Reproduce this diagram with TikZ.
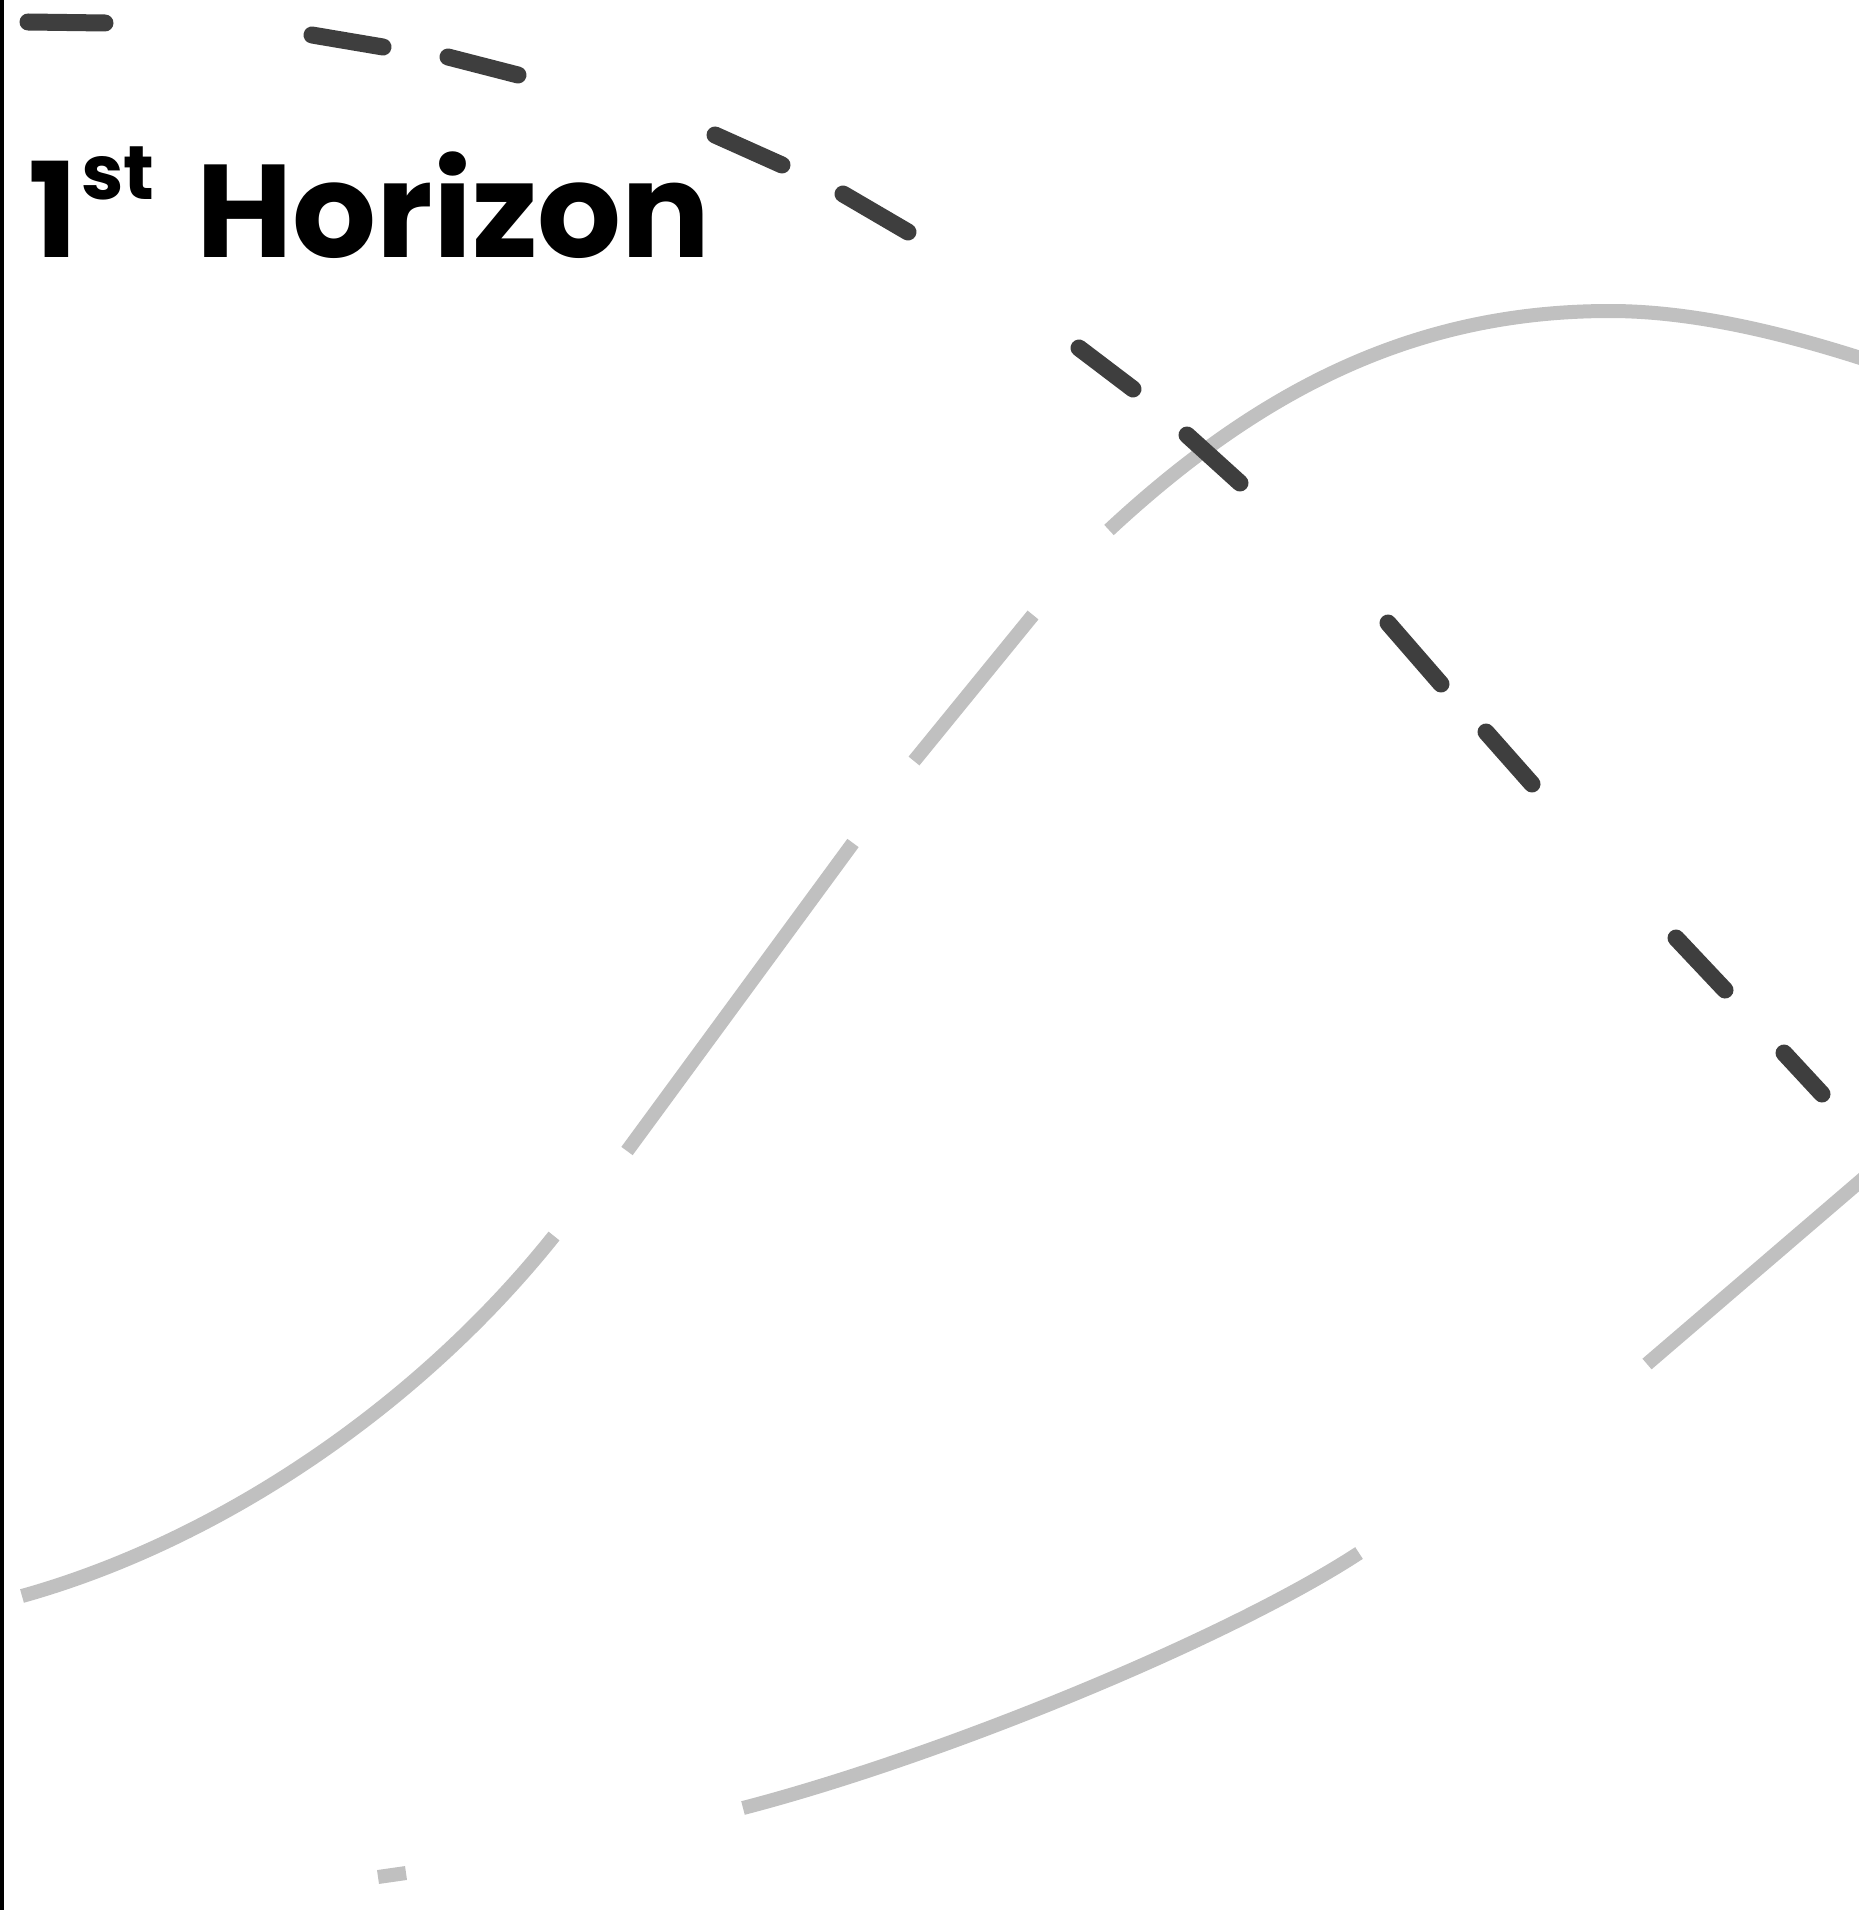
\documentclass[tikz,border=0pt]{standalone}
\usepackage{fontspec}
\newfontfamily\pop{Poppins}
\definecolor{darkdash}{HTML}{3E3E3E}
\definecolor{lightline}{HTML}{C0C0C0}
\begin{document}
\begin{tikzpicture}[x=1pt,y=-1pt,
  darkseg/.style={draw=darkdash,line width=17pt,line cap=round},
  lightseg/.style={draw=lightline,line width=14pt,line cap=butt},
  label/.style={inner sep=0pt,outer sep=0pt,anchor=base west,text=black}]
\useasboundingbox (0,0) rectangle (1859,1910);
\fill[white] (0,0) rectangle (1859,1910);
\begin{scope}
\clip (0,0) rectangle (1859,1910);
% light grey loop, drawn in pieces
\draw[lightseg] (22,1596) .. controls (222,1540) and (420,1404) .. (554,1236);
\draw[lightseg] (627,1151) -- (853,843);
\draw[lightseg] (914,761) -- (1033,615);
\draw[lightseg] (1109,530) .. controls (1265,385) and (1420,311) .. (1610,311)
                .. controls (1720,311) and (1840,350) .. (1920,378);
\draw[lightseg] (1647,1364) -- (1900,1147);
\draw[lightseg] (743,1808) .. controls (943,1756) and (1229,1638) .. (1359,1553);
\draw[lightseg] (378,1877) -- (406,1873);
% dark dashes
\draw[darkseg] (28,22) -- (105,23);
\draw[darkseg] (312,35) -- (383,47);
\draw[darkseg] (448,57) -- (518,75);
\draw[darkseg] (715,135) -- (782,165);
\draw[darkseg] (843,194) -- (908,232);
\draw[darkseg] (1079,348) -- (1133,389);
\draw[darkseg] (1187,435) -- (1240,483);
\draw[darkseg] (1388,623) -- (1441,684);
\draw[darkseg] (1486,732) -- (1532,784);
\draw[darkseg] (1676,938) -- (1725,990);
\draw[darkseg] (1784,1053) -- (1822,1094);
\end{scope}
% left border
\fill[black] (0,0) rectangle (4,1910);
% title
\node[label] (one) at (28,258) {\pop\bfseries\fontsize{132}{140}\selectfont 1};
\node[label] (sup) at (81,200) {\pop\bfseries\fontsize{76}{80}\selectfont st};
\node[label] (title) at (196,258) {\pop\bfseries\fontsize{132}{140}\selectfont Horizon};
\end{tikzpicture}
\end{document}
